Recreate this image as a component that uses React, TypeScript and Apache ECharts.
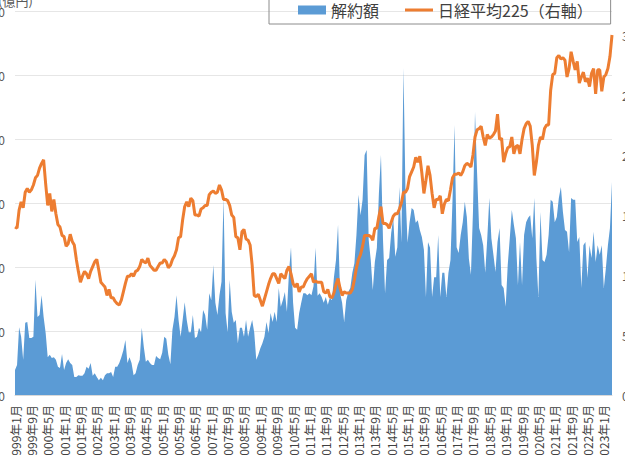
import React, { useEffect, useRef } from "react";
import * as echarts from "echarts";

const FONT = '"Noto Sans CJK JP", "Noto Sans", sans-serif';

const START_YEAR = 1999;
const MONTH_COUNT = 293;
const categories: string[] = Array.from(
  { length: MONTH_COUNT },
  (_, i) => `${START_YEAR + Math.floor(i / 12)}年${(i % 12) + 1}月`
);

// 解約額（億円）, monthly from 1999年1月
const redemptions: number[] = [
  3900, 4700, 10600, 9100, 5500, 11300, 11400, 8900, 8900, 9100, 18000, 12200,
  12500, 15600, 12200, 9700, 5900, 6300, 5800, 5900, 5500, 4400, 4200, 6400,
  3900, 5000, 5600, 5000, 4700, 2800, 2800, 3100, 3000, 3000, 3400, 4400,
  4100, 5000, 3000, 3400, 2800, 2300, 2700, 2300, 3100, 3400, 3400, 3600,
  2800, 4400, 4400, 5000, 5900, 7000, 8600, 5000, 5900, 5000, 3100, 3400,
  4700, 5500, 10500, 7500, 5200, 5500, 5000, 4700, 4700, 6100, 5800, 5600,
  6600, 9100, 8800, 6300, 4800, 10200, 12200, 15600, 11700, 9100, 11700, 14500,
  11700, 9800, 9800, 12500, 8900, 9100, 10500, 9800, 13300, 12500, 10200, 15900,
  14800, 20300, 14400, 12500, 15600, 17700, 30800, 12800, 9800, 18000, 13000, 11300,
  11700, 8100, 10500, 10500, 9100, 11700, 9100, 10500, 11700, 9800, 5500, 6300,
  7300, 8100, 9100, 11400, 9700, 12800, 11400, 13000, 11400, 16700, 13800, 14800,
  16100, 13000, 19100, 23100, 14500, 10500, 10200, 12800, 14400, 15900, 15900, 15600,
  15900, 15600, 17000, 23000, 15500, 15900, 15300, 14400, 15300, 14100, 15200, 14800,
  18400, 21100, 26600, 15900, 14400, 11400, 14800, 16100, 16700, 19100, 20600, 25000,
  31300, 28100, 30500, 37500, 38300, 24200, 21100, 16400, 20800, 23000, 31600, 37500,
  24200, 15900, 21100, 21400, 25300, 27700, 21600, 23100, 32500, 23800, 51100, 31600,
  23800, 27000, 29200, 28900, 26900, 27300, 25800, 24700, 22700, 15300, 23900, 23000,
  15300, 18400, 18400, 25000, 15300, 19100, 19100, 15300, 19100, 21100, 30500, 42200,
  23100, 22200, 25000, 27000, 30200, 27800, 21300, 18800, 28600, 44200, 34800, 26100,
  25000, 23400, 19100, 24500, 30800, 24500, 21900, 19200, 23900, 26100, 17200, 16700,
  13800, 20300, 24500, 28900, 26600, 24500, 17200, 23900, 17200, 25000, 27000, 27700,
  28100, 24500, 30800, 21400, 15300, 28600, 21100, 20800, 21900, 25000, 30500, 30200,
  27000, 27800, 30800, 32500, 28600, 25800, 25500, 22300, 30800, 30500, 30500, 23900,
  24700, 16700, 23400, 23900, 18300, 23400, 21400, 25500, 20800, 23400, 21900, 23400,
  16700, 19800, 23400, 26100, 33300,
];

// 日経平均225（右軸）, monthly from 1999年1月
const nikkei: number[] = [
  14000, 13900, 15400, 16100, 15600, 16900, 17200, 16900, 17100, 17500, 18100, 18300,
  18900, 19300, 19600, 17600, 15800, 16800, 15300, 16300, 15100, 14200, 14000, 13300,
  13200, 12400, 12600, 13400, 12800, 12500, 11300, 10300, 9400, 9900, 10300, 10100,
  9700, 10300, 10700, 11100, 11300, 10400, 9400, 9200, 9000, 8300, 8800, 8100,
  8100, 7800, 7600, 7500, 7900, 8600, 9300, 9900, 9900, 10100, 9900, 10300,
  10400, 10700, 11300, 11100, 11000, 11400, 10800, 10600, 10400, 10400, 10700, 11000,
  11000, 11300, 11100, 10600, 10800, 11300, 11600, 12100, 13100, 13200, 14600, 15700,
  16100, 15700, 16400, 16200, 15000, 15000, 14900, 15500, 15600, 15800, 15800, 16700,
  16900, 17000, 16800, 16900, 17500, 17100, 16300, 16300, 16200, 15800, 15000, 14800,
  13200, 13100, 12100, 13600, 13800, 13000, 12900, 12500, 10800, 8300, 8200, 8400,
  7900, 7400, 8000, 8600, 9200, 9700, 10100, 10100, 9700, 9300, 10100, 9900,
  9700, 10400, 10700, 10100, 9300, 9000, 9300, 8600, 9000, 9000, 9400, 9700,
  9900, 10100, 9400, 9500, 9400, 9400, 9400, 8600, 8500, 8800, 8200, 8100,
  8500, 9200, 9700, 8900, 8300, 8600, 8500, 8500, 8500, 8800, 9600, 10600,
  11300, 11700, 12400, 13300, 13300, 13300, 13200, 12900, 13900, 13900, 14900, 15700,
  14300, 14300, 14200, 13900, 14400, 14900, 15100, 15100, 15500, 16000, 16900, 16900,
  17200, 18200, 18600, 19000, 19800, 19400, 19900, 18500, 16800, 17900, 19100, 18300,
  16800, 15600, 16300, 16300, 16600, 15100, 15900, 16300, 16200, 17100, 18100, 18400,
  18400, 18500, 18300, 18600, 19100, 19300, 19200, 19000, 20000, 21500, 22100, 22200,
  22400, 21500, 20800, 21700, 21400, 21500, 21700, 22000, 23400, 21300, 21400, 19400,
  20100, 20600, 20700, 21500, 20100, 20700, 20800, 20100, 21300, 22200, 22600, 22800,
  22400, 20800, 18300, 19400, 20800, 21500, 21300, 22200, 22500, 22500, 25400, 26700,
  26800, 28100, 28300, 28000, 28100, 27900, 26500, 27200, 28600, 27800, 27100, 27800,
  26000, 26500, 26900, 26100, 26400, 25700, 26800, 27200, 25100, 27100, 27100, 25300,
  26500, 26700, 27200, 28200, 30000,
];

const SERIES_NAMES = ["解約額", "日経平均225（右軸）"];
const LEFT_AXIS = { min: 0, max: 60000, interval: 10000 };
const RIGHT_AXIS = { min: 0, max: 32000, interval: 5000 };
const UNIT_LABEL = "(億円)";

const fmt = (v: number) => v.toLocaleString("en-US");

export default function App() {
  const ref = useRef<HTMLDivElement>(null);

  useEffect(() => {
    if (!ref.current) return;
    const chart = echarts.init(ref.current, null, { renderer: "svg" });
    chart.setOption({
      animation: false,
      backgroundColor: "#ffffff",
      textStyle: { fontFamily: FONT },
      grid: { left: 75, right: 88, top: 41, bottom: 95, outerBoundsMode: "none" },
      legend: {
        left: 329,
        top: 16,
        padding: [16, 18, 6, 29],
        itemGap: 26,
        itemWidth: 28,
        itemHeight: 9,
        borderColor: "#8c8c8c",
        borderWidth: 1,
        textStyle: { fontSize: 16, color: "#404040", lineHeight: 16, fontFamily: FONT },
        data: [
          { name: SERIES_NAMES[0], icon: "rect", itemStyle: { color: "#5b9bd5" } },
          {
            name: SERIES_NAMES[1],
            icon: "path://M0,0H28V3H0Z",
            itemStyle: { color: "#ed7d31" },
          },
        ],
      },
      xAxis: {
        type: "category",
        data: categories,
        boundaryGap: false,
        axisLine: { lineStyle: { color: "#d9d9d9" } },
        axisTick: { show: false },
        axisLabel: {
          interval: 7,
          rotate: 90,
          fontSize: 12,
          color: "#404040",
          margin: 10,
          fontFamily: FONT,
        },
      },
      yAxis: [
        {
          type: "value",
          min: LEFT_AXIS.min,
          max: LEFT_AXIS.max,
          interval: LEFT_AXIS.interval,
          axisLine: { show: false },
          axisTick: { show: false },
          splitLine: { lineStyle: { color: "#e6e6e6", width: 1 } },
          axisLabel: { fontSize: 12, color: "#595959", margin: 10, formatter: fmt, fontFamily: FONT },
        },
        {
          type: "value",
          position: "right",
          min: RIGHT_AXIS.min,
          max: RIGHT_AXIS.max,
          interval: RIGHT_AXIS.interval,
          axisLine: { show: false },
          axisTick: { show: false },
          splitLine: { show: false },
          axisLabel: {
            fontSize: 12,
            color: "#595959",
            margin: 10,
            formatter: fmt,
            showMaxLabel: false,
            fontFamily: FONT,
          },
        },
      ],
      series: [
        {
          name: SERIES_NAMES[0],
          type: "line",
          yAxisIndex: 0,
          data: redemptions,
          symbol: "none",
          lineStyle: { width: 0, color: "#5b9bd5" },
          itemStyle: { color: "#5b9bd5" },
          areaStyle: { color: "#5b9bd5", opacity: 1 },
          z: 2,
        },
        {
          name: SERIES_NAMES[1],
          type: "line",
          yAxisIndex: 1,
          data: nikkei,
          symbol: "none",
          lineStyle: { width: 3, color: "#ed7d31" },
          itemStyle: { color: "#ed7d31" },
          z: 3,
        },
      ],
      graphic: [
        {
          type: "text",
          left: 58,
          top: 24,
          style: { text: UNIT_LABEL, fontSize: 13, fill: "#595959", fontFamily: FONT },
        },
      ],
    });
    return () => chart.dispose();
  }, []);

  return (
    <div
      ref={ref}
      style={{ position: "fixed", left: -60, top: -30, width: 760, height: 520 }}
    />
  );
}
